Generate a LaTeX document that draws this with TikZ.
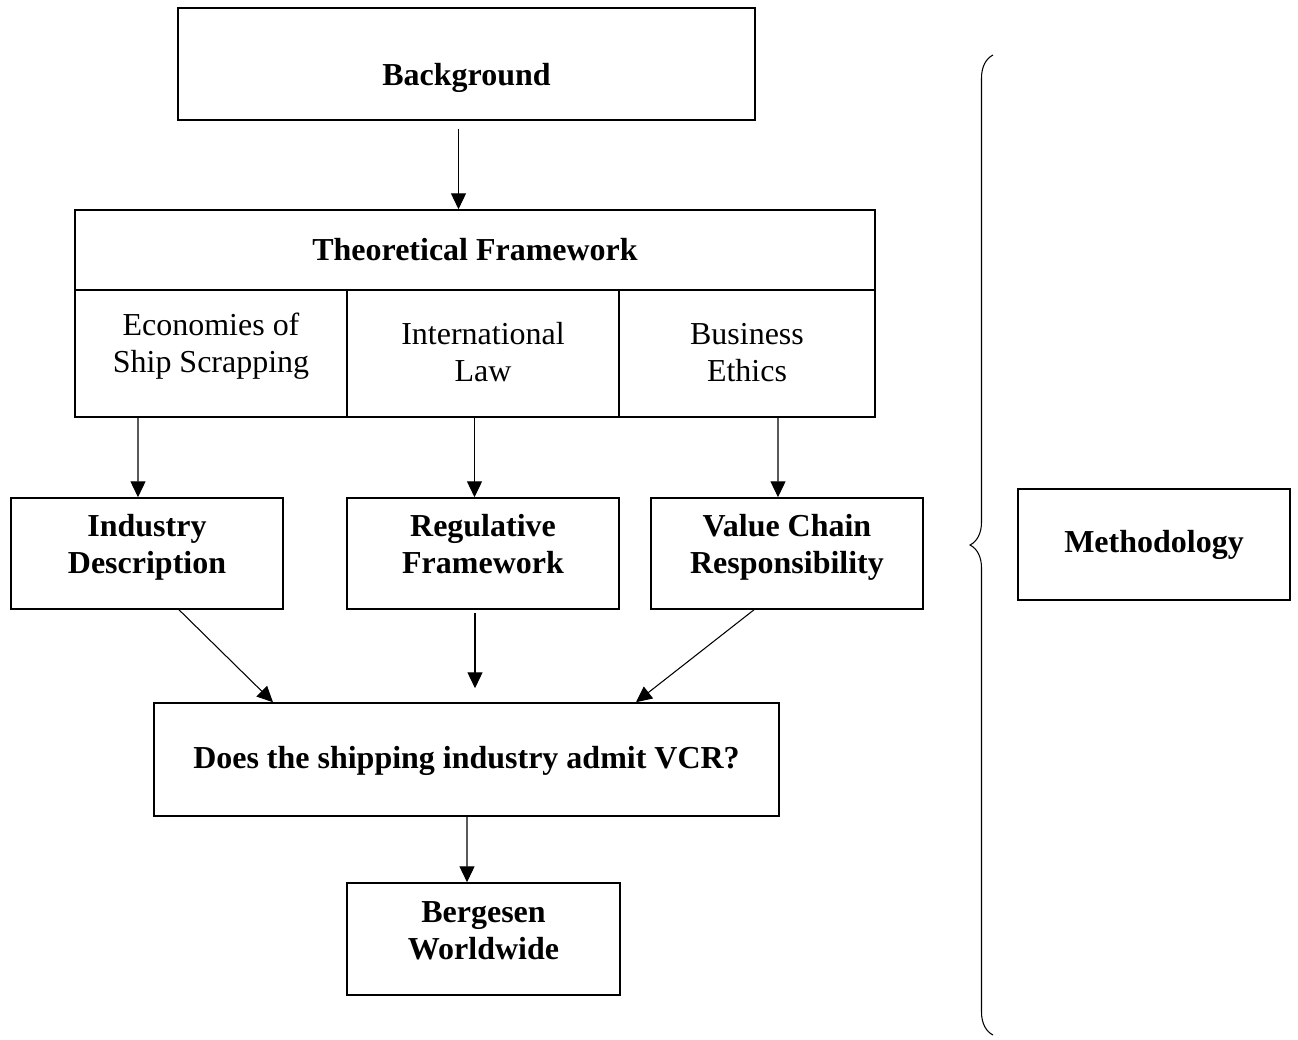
\documentclass[tikz,border=0pt]{standalone}
\usepackage{fontspec}
\setmainfont{Liberation Serif}
\usetikzlibrary{arrows.meta,decorations.pathreplacing}

\begin{document}
\begin{tikzpicture}[
	box/.style={draw,line width=0.9pt,inner sep=0pt,align=center,font=\fontsize{18.2}{21}\selectfont\bfseries},
	cell/.style={draw,line width=0.9pt,inner sep=0pt,align=center,font=\fontsize{18.2}{21}\selectfont},
	link/.style={line width=0.6pt,-{Triangle[length=9pt,width=8.5pt]}}
]
	\useasboundingbox (0,0) rectangle (25.96,-20.78);
	\node[box,minimum width=11.54cm,text height=1.54cm,text depth=0.70cm] (bg) at (9.33,-1.28) {Background};
	\node[box,minimum width=16cm,text height=1.00cm,text depth=0.60cm] (tf) at (9.5,-5.0) {Theoretical Framework};
	\node[cell,minimum width=5.44cm,text height=1.64cm,text depth=0.90cm] (econ) at (4.22,-7.07) {Economies of\\Ship Scrapping};
	\node[cell,minimum width=5.44cm,text height=1.82cm,text depth=0.72cm] (law) at (9.66,-7.07) {International\\Law};
	\node[cell,minimum width=5.12cm,text height=1.82cm,text depth=0.72cm] (ethics) at (14.94,-7.07) {Business\\Ethics};
	\node[box,minimum width=5.44cm,text height=1.50cm,text depth=0.72cm] (ind) at (2.94,-11.07) {Industry\\Description};
	\node[box,minimum width=5.44cm,text height=1.50cm,text depth=0.72cm] (reg) at (9.66,-11.07) {Regulative\\Framework};
	\node[box,minimum width=5.44cm,text height=1.50cm,text depth=0.72cm] (vcr) at (15.74,-11.07) {Value Chain\\Responsibility};
	\node[box,minimum width=12.5cm,text height=1.30cm,text depth=0.96cm] (q) at (9.33,-15.19) {Does the shipping industry admit VCR?};
	\node[box,minimum width=5.46cm,text height=1.52cm,text depth=0.72cm] (berg) at (9.67,-18.78) {Bergesen\\Worldwide};
	\node[box,minimum width=5.44cm,text height=1.26cm,text depth=0.96cm] (meth) at (23.08,-10.89) {Methodology};
	\draw[link] ([xshift=-0.16cm,yshift=-0.16cm]bg.south) -- ([xshift=-0.33cm]tf.north);
	\draw[link] ([xshift=-1.46cm]econ.south) -- ([xshift=-0.18cm]ind.north);
	\draw[link] ([xshift=-0.17cm]law.south) -- ([xshift=-0.17cm]reg.north);
	\draw[link] ([xshift=0.62cm]ethics.south) -- ([xshift=-0.18cm]vcr.north);
	\draw[link] ([xshift=0.64cm]ind.south) -- ([xshift=-3.87cm]q.north);
	\draw[link] ([xshift=-0.16cm,yshift=-0.06cm]reg.south) -- ([xshift=0.17cm,yshift=0.28cm]q.north);
	\draw[link] ([xshift=-0.66cm]vcr.south) -- ([xshift=3.39cm]q.north);
	\draw[link] ([xshift=0.01cm]q.south) -- ([xshift=-0.33cm]berg.north);
	\coordinate (btop) at (19.86,-1.10);
	\coordinate (bbot) at (19.86,-20.70);
	\draw[line width=0.6pt,decorate,decoration={brace,amplitude=0.46cm}] (bbot) -- (btop);
\end{tikzpicture}
\end{document}
